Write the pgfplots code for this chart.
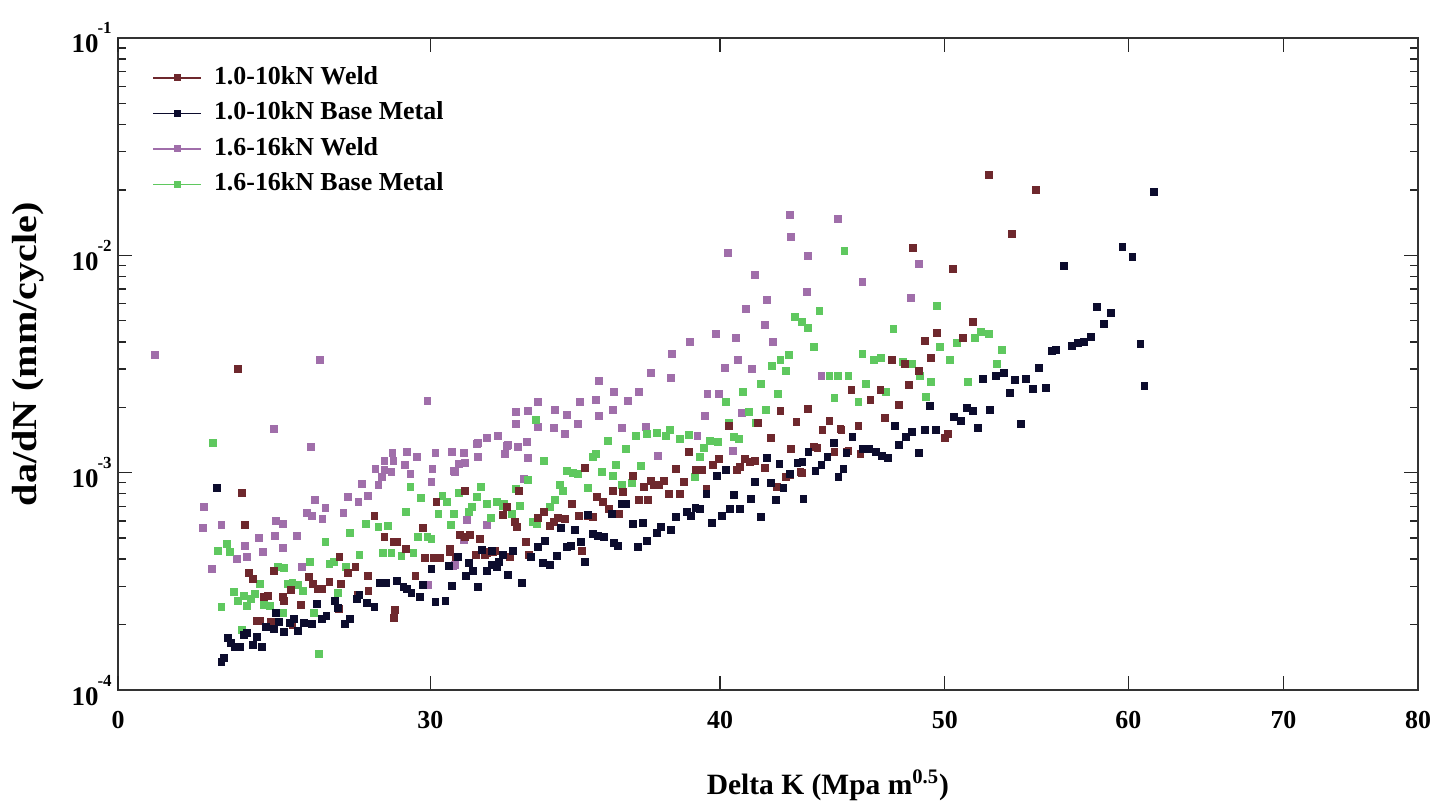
\documentclass[border=0pt]{standalone}
\usepackage{fontspec}
\setmainfont{Liberation Serif}
\usepackage{graphicx}
\usepackage{pgfplots}
\pgfplotsset{compat=1.18}
\definecolor{weldA}{RGB}{110,40,45}
\definecolor{baseA}{RGB}{12,12,45}
\definecolor{weldB}{RGB}{160,110,170}
\definecolor{baseB}{RGB}{95,200,95}
\newcommand{\ex}[1]{\kern-0.5bp\raisebox{9.5bp}{\fontsize{8.5}{9}\selectfont #1}}
\begin{document}
\begin{tikzpicture}
\begin{axis}[
    scale only axis,
    width=650bp, height=326bp,
    xmode=log, ymode=log,
    xmin=22, xmax=80, ymin=1e-4, ymax=1e-1,
    xtick={30,40,50,60,70,80},
    xticklabels={30,40,50,60,70,80},
    extra x ticks={22}, extra x tick labels={0},
    xminorticks=false,
    ytick={1e-4,1e-3,1e-2,1e-1},
    yticklabels={10\ex{-4},10\ex{-3},10\ex{-2},10\ex{-1}},
    minor ytick={2e-4,3e-4,4e-4,5e-4,6e-4,7e-4,8e-4,9e-4,2e-3,3e-3,4e-3,5e-3,6e-3,7e-3,8e-3,9e-3,2e-2,3e-2,4e-2,5e-2,6e-2,7e-2,8e-2,9e-2},
    tick align=inside,
    major tick length=7bp, minor tick length=4bp,
    every tick/.style={black!85, line width=0.7bp},
    axis line style={black!80, line width=1bp},
    xticklabel style={font=\bfseries\fontsize{13}{15}\selectfont, yshift=-7bp},
    yticklabel style={font=\bfseries\fontsize{13.5}{15}\selectfont, anchor=base east, yshift=-7.5bp, inner sep=0pt, xshift=-3bp},
    xlabel={Delta K (Mpa m\textsuperscript{0.5})},
    ylabel={\scalebox{1.15}[1]{da/dN (mm/cycle)}},
    xlabel style={font=\bfseries\fontsize{14.8}{17}\selectfont, at={(axis description cs:0.546,-0.146)}, anchor=center},
    ylabel style={font=\bfseries\fontsize{17.5}{20}\selectfont, at={(axis description cs:-0.069,0.515)}, anchor=center},
    legend image code/.code={\draw[mark repeat=2,mark phase=2,#1] plot coordinates {(0bp,0bp) (12bp,0bp) (24bp,0bp)};},
    legend cell align=left,
    legend style={at={(axis description cs:0.026,0.957)}, anchor=north west, draw=none, fill=none,
        font=\bfseries\fontsize{13}{15}\selectfont, inner sep=0pt, row sep=6.25bp, column sep=6bp,
        nodes={inner sep=0pt, text height=9bp, text depth=2.5bp}},
]
\addlegendimage{weldA, mark=square*, mark size=1.3bp, line width=0.9bp}
\addlegendentry{1.0-10kN Weld}
\addlegendimage{baseA, mark=square*, mark size=1.3bp, line width=0.9bp}
\addlegendentry{1.0-10kN Base Metal}
\addlegendimage{weldB, mark=square*, mark size=1.3bp, line width=0.9bp}
\addlegendentry{1.6-16kN Weld}
\addlegendimage{baseB, mark=square*, mark size=1.3bp, line width=0.9bp}
\addlegendentry{1.6-16kN Base Metal}

% 1.6-16kN Weld
\addplot[only marks, mark=square*, mark size=1.7bp, color=weldB, forget plot] coordinates {
(22.82,3.48e-3) (26.88,3.30e-3) (29.91,2.14e-3) (25.68,1.589e-3) (26.64,1.313e-3) (23.96,6.95e-4) (23.94,5.56e-4) (24.38,5.74e-4) (24.14,3.60e-4) (24.95,4.60e-4) (24.76,4.01e-4) (25.00,4.09e-4) (25.30,5.00e-4) (25.40,4.32e-4) (25.70,5.11e-4) (25.73,5.99e-4) (25.91,5.81e-4) (25.91,4.50e-4) (26.27,5.11e-4) (26.41,3.68e-4) (26.54,6.52e-4) (26.67,6.32e-4) (26.75,7.49e-4) (27.03,6.88e-4) (26.95,6.12e-4) (27.52,6.52e-4) (27.63,7.73e-4) (27.93,7.33e-4) (28.02,8.87e-4) (28.19,7.81e-4) (28.41,1.040e-3) (28.49,8.78e-4) (28.66,1.029e-3) (28.58,9.55e-4) (28.86,1.007e-3) (28.66,1.132e-3) (28.92,1.132e-3) (28.89,1.232e-3) (29.24,1.085e-3) (29.30,1.245e-3) (29.41,9.86e-4) (29.59,1.181e-3) (30.03,9.06e-4) (30.06,1.040e-3) (30.15,1.232e-3) (30.66,1.245e-3) (30.75,1.007e-3) (30.87,1.096e-3) (31.02,1.232e-3) (31.11,6.06e-4) (31.43,1.355e-3) (31.46,1.181e-3) (31.74,1.444e-3) (32.08,1.475e-3) (32.38,1.327e-3) (31.74,5.74e-4) (30.69,3.72e-4) (29.94,3.04e-4)
(40.31,1.026e-2) (43.63,9.94e-3) (41.40,8.13e-3) (43.59,6.79e-3) (41.89,6.24e-3) (41.03,5.67e-3) (41.81,4.78e-3) (40.62,4.17e-3) (39.83,4.35e-3) (42.15,4.00e-3) (38.82,4.00e-3) (38.13,3.52e-3) (40.70,3.30e-3) (41.27,3.00e-3) (40.19,3.03e-3) (37.35,2.88e-3) (38.09,2.73e-3) (35.47,2.64e-3) (36.00,2.35e-3) (36.90,2.35e-3) (36.50,2.14e-3) (35.36,2.16e-3) (34.81,2.12e-3) (35.97,1.944e-3) (35.47,1.824e-3) (34.36,1.843e-3) (33.96,1.944e-3) (33.38,2.12e-3) (33.05,1.923e-3) (32.66,1.90e-3) (32.66,1.675e-3) (33.38,1.623e-3) (33.93,1.605e-3) (34.29,1.507e-3) (34.74,1.675e-3) (36.28,1.605e-3) (37.16,1.623e-3) (39.51,2.30e-3) (39.95,2.30e-3) (39.40,1.824e-3) (40.87,1.883e-3) (40.50,1.259e-3) (39.12,1.475e-3) (37.61,1.193e-3) (31.46,1.370e-3) (32.41,1.341e-3) (32.73,1.313e-3) (33.02,1.384e-3) (32.31,1.219e-3) (33.05,1.168e-3) (30.72,1.018e-3) (31.05,1.108e-3) (32.92,9.35e-4) (31.02,4.90e-4) (30.75,3.76e-4)
(44.24,2.79e-3) (44.95,1.470e-2) (42.86,1.534e-2) (42.90,1.215e-2) (46.07,7.55e-3) (48.74,9.13e-3) (48.36,6.37e-3)
};

% 1.6-16kN Base Metal
\addplot[only marks, mark=square*, mark size=1.7bp, color=baseB, forget plot] coordinates {
(24.17,1.370e-3) (24.51,4.70e-4) (24.29,4.36e-4) (24.58,4.32e-4) (24.68,2.82e-4) (24.78,2.57e-4) (24.92,2.71e-4) (25.10,2.62e-4) (25.20,2.77e-4) (25.33,3.07e-4) (24.38,2.41e-4) (25.00,2.43e-4) (25.43,2.46e-4) (25.58,2.43e-4) (25.78,3.68e-4) (25.94,3.64e-4) (26.04,3.07e-4) (26.16,3.11e-4) (26.30,3.04e-4) (26.43,2.85e-4) (26.62,3.88e-4) (27.03,4.80e-4) (27.14,3.80e-4) (27.25,3.88e-4) (27.36,2.79e-4) (27.58,3.68e-4) (27.69,5.28e-4) (27.96,4.18e-4) (28.13,5.81e-4) (28.49,5.62e-4) (28.77,5.68e-4) (28.61,4.27e-4) (28.86,4.27e-4) (29.15,4.14e-4) (29.27,6.59e-4) (29.41,8.59e-4) (29.50,4.27e-4) (29.64,5.06e-4) (29.73,7.65e-4) (29.91,5.06e-4) (30.03,4.95e-4) (30.24,6.45e-4) (30.36,7.81e-4) (30.51,7.33e-4) (30.63,5.74e-4) (30.72,6.45e-4) (30.87,8.06e-4) (31.18,6.59e-4) (31.27,6.95e-4) (31.43,7.73e-4) (31.55,8.59e-4) (31.74,7.18e-4) (31.86,6.19e-4) (32.05,7.33e-4) (32.28,7.18e-4) (24.88,1.889e-4) (26.72,2.26e-4) (26.85,1.464e-4) (25.91,2.26e-4)
(44.15,5.55e-3) (43.07,5.21e-3) (43.37,4.94e-3) (43.63,4.63e-3) (43.89,3.79e-3) (42.82,3.48e-3) (42.47,3.30e-3) (42.10,3.10e-3) (42.69,2.94e-3) (41.64,2.56e-3) (42.35,2.30e-3) (40.91,2.35e-3) (40.22,2.12e-3) (41.15,1.90e-3) (41.85,1.944e-3) (44.59,2.79e-3) (44.95,2.79e-3) (45.44,2.79e-3) (44.81,2.21e-3) (41.44,1.693e-3) (40.34,1.693e-3) (40.54,1.459e-3) (40.75,1.429e-3) (39.59,1.399e-3) (39.91,1.384e-3) (39.36,1.299e-3) (39.20,1.181e-3) (38.78,1.491e-3) (38.43,1.429e-3) (38.05,1.572e-3) (37.91,1.475e-3) (37.57,1.523e-3) (37.20,1.507e-3) (36.79,1.475e-3) (36.43,1.285e-3) (35.79,1.399e-3) (36.07,1.085e-3) (35.97,9.65e-4) (35.57,1.007e-3) (35.36,1.219e-3) (35.26,1.181e-3) (35.08,8.50e-4) (34.36,1.018e-3) (34.56,9.97e-4) (34.74,9.86e-4) (34.12,8.78e-4) (34.22,8.24e-4) (33.96,7.49e-4) (33.79,6.95e-4) (33.59,1.132e-3) (33.32,1.748e-3) (33.05,9.26e-4) (32.79,7.03e-4) (32.66,8.41e-4) (32.54,6.45e-4) (32.25,7.03e-4) (33.22,5.93e-4) (33.35,5.81e-4) (36.64,8.97e-4) (36.28,8.78e-4) (36.97,1.073e-3) (39.00,9.55e-4)
(45.26,1.048e-2) (49.62,5.85e-3) (47.51,4.58e-3) (46.07,3.52e-3) (46.62,3.30e-3) (46.94,3.37e-3) (48.41,3.16e-3) (49.77,3.79e-3) (50.61,3.95e-3) (51.51,4.17e-3) (51.82,4.44e-3) (52.23,4.35e-3) (52.92,3.67e-3) (50.26,3.30e-3) (52.65,3.16e-3) (48.79,2.79e-3) (49.33,2.61e-3) (51.16,2.61e-3) (46.25,2.56e-3) (47.18,2.35e-3) (45.89,2.12e-3) (49.08,2.23e-3) (47.98,3.23e-3)
};

% 1.0-10kN Weld
\addplot[only marks, mark=square*, mark size=1.7bp, color=weldA, forget plot] coordinates {
(24.78,3.00e-3) (24.88,8.07e-4) (24.95,5.74e-4) (25.05,3.45e-4) (25.15,3.24e-4) (25.43,2.68e-4) (25.53,2.71e-4) (25.25,2.08e-4) (25.33,2.08e-4) (25.68,3.53e-4) (25.91,2.68e-4) (25.94,2.57e-4) (26.11,2.885e-4) (26.38,2.46e-4) (26.59,3.31e-4) (26.69,3.07e-4) (26.82,2.92e-4) (26.93,2.92e-4) (27.14,3.14e-4) (27.41,4.09e-4) (27.44,3.07e-4) (27.63,3.45e-4) (27.85,3.68e-4) (28.19,3.35e-4) (28.21,2.85e-4) (28.38,6.32e-4) (28.66,5.06e-4) (28.92,4.80e-4) (29.03,4.80e-4) (29.27,4.45e-4) (29.56,3.35e-4) (29.79,5.56e-4) (29.85,4.05e-4) (30.09,4.05e-4) (30.30,4.05e-4) (30.18,7.33e-4) (30.60,4.45e-4) (30.90,5.17e-4) (31.21,5.17e-4) (31.05,8.24e-4) (31.52,4.95e-4) (31.74,4.27e-4) (31.92,4.32e-4) (32.25,6.39e-4) (32.38,6.95e-4) (28.97,2.33e-4) (28.94,2.14e-4) (26.16,1.99e-4) (25.60,2.06e-4) (27.91,2.74e-4) (27.39,2.36e-4)
(32.76,8.24e-4) (32.63,5.93e-4) (32.69,5.62e-4) (33.38,6.19e-4) (33.59,6.59e-4) (33.79,5.68e-4) (33.93,5.93e-4) (34.06,6.19e-4) (34.29,6.12e-4) (34.53,7.18e-4) (34.77,6.32e-4) (34.98,1.051e-3) (35.08,6.32e-4) (35.26,6.26e-4) (35.40,7.73e-4) (35.61,7.33e-4) (35.82,6.81e-4) (35.97,8.24e-4) (36.18,6.45e-4) (36.32,8.15e-4) (36.68,9.65e-4) (36.90,7.49e-4) (37.09,8.59e-4) (37.23,7.49e-4) (37.35,9.16e-4) (37.46,8.78e-4) (37.64,8.78e-4) (37.83,9.16e-4) (38.02,7.98e-4) (38.43,7.98e-4) (38.59,9.06e-4) (38.28,1.040e-3) (38.78,1.245e-3) (39.04,1.029e-3) (39.28,1.029e-3) (39.47,8.41e-4) (39.71,1.085e-3) (39.95,1.156e-3) (40.22,1.029e-3) (40.34,1.640e-3) (40.66,1.029e-3) (40.79,1.062e-3) (40.99,1.156e-3) (41.19,1.120e-3) (41.40,1.132e-3) (41.52,1.693e-3) (42.06,1.444e-3) (41.81,1.051e-3) (42.47,1.923e-3) (43.15,1.711e-3) (43.63,1.965e-3) (42.90,1.285e-3) (43.89,1.313e-3) (44.06,1.299e-3) (44.28,1.572e-3) (44.59,1.730e-3) (44.81,1.245e-3) (45.12,1.572e-3) (45.35,1.245e-3) (42.31,8.59e-4) (42.69,9.55e-4) (42.86,9.76e-4) (43.32,1.007e-3) (31.05,5.06e-4) (30.60,4.32e-4) (30.78,4.09e-4) (31.39,4.18e-4) (31.68,4.18e-4) (31.83,4.32e-4) (31.99,4.36e-4) (32.47,4.09e-4) (33.08,4.18e-4) (32.98,4.80e-4) (34.88,4.36e-4)
(52.23,2.34e-2) (53.44,1.255e-2) (54.73,2.00e-2) (48.46,1.081e-2) (50.41,8.66e-3) (51.41,4.94e-3) (49.62,4.40e-3) (49.03,4.04e-3) (50.91,4.17e-3) (47.46,3.30e-3) (48.07,3.16e-3) (48.74,2.94e-3) (49.33,3.37e-3) (48.26,2.53e-3) (46.90,2.40e-3) (45.57,2.40e-3) (46.44,2.16e-3) (47.79,2.05e-3) (47.13,1.786e-3) (45.89,1.640e-3) (45.08,1.588e-3) (45.44,1.259e-3) (45.98,1.219e-3) (43.37,9.97e-4) (50.00,1.444e-3) (50.16,1.507e-3)
};

% 1.0-10kN Base Metal
\addplot[only marks, mark=square*, mark size=1.7bp, color=baseA, forget plot] coordinates {
(24.26,8.50e-4) (24.38,1.345e-4) (24.43,1.41e-4) (24.53,1.735e-4) (24.61,1.646e-4) (24.71,1.578e-4) (24.83,1.578e-4) (24.93,1.791e-4) (25.00,1.830e-4) (25.15,1.611e-4) (25.25,1.754e-4) (25.38,1.578e-4) (25.48,1.950e-4) (25.68,1.910e-4) (25.73,2.26e-4) (25.81,2.06e-4) (25.94,1.849e-4) (26.09,2.03e-4) (26.19,2.13e-4) (26.30,1.869e-4) (26.46,2.03e-4) (26.67,2.01e-4) (26.80,2.49e-4) (26.93,2.13e-4) (27.06,2.20e-4) (27.28,2.57e-4) (27.36,2.38e-4) (27.55,2.01e-4) (27.69,2.13e-4) (27.88,2.62e-4) (27.96,2.74e-4) (28.16,2.51e-4) (28.38,2.41e-4) (28.52,3.11e-4) (28.72,3.11e-4) (29.03,3.17e-4) (29.21,2.98e-4) (29.32,2.92e-4) (29.44,2.79e-4) (29.70,2.68e-4) (29.79,3.04e-4) (30.03,3.60e-4) (30.15,2.54e-4) (30.45,2.57e-4) (30.57,3.72e-4) (30.84,4.09e-4) (31.08,3.35e-4) (31.18,3.84e-4) (30.66,3.01e-4) (31.46,2.98e-4) (31.58,4.41e-4) (31.74,3.53e-4) (31.89,4.36e-4) (32.05,3.68e-4) (32.12,3.88e-4) (32.25,4.18e-4) (32.41,3.38e-4)
(32.86,3.11e-4) (31.30,3.53e-4) (31.89,3.76e-4) (32.57,4.36e-4) (33.15,4.09e-4) (33.55,3.84e-4) (33.79,3.76e-4) (34.02,4.14e-4) (33.38,4.55e-4) (33.62,4.85e-4) (34.16,5.56e-4) (34.36,4.55e-4) (34.50,4.60e-4) (34.63,5.45e-4) (34.84,4.80e-4) (34.98,3.88e-4) (35.08,6.39e-4) (35.26,5.22e-4) (35.43,5.11e-4) (35.64,5.06e-4) (36.00,4.75e-4) (36.14,4.60e-4) (35.93,6.45e-4) (36.28,7.18e-4) (36.43,7.18e-4) (36.68,5.81e-4) (36.87,4.55e-4) (37.05,5.87e-4) (37.20,4.85e-4) (37.57,5.28e-4) (37.72,5.62e-4) (38.09,5.45e-4) (38.28,6.26e-4) (38.70,6.59e-4) (38.86,6.32e-4) (39.04,6.88e-4) (39.20,6.81e-4) (39.47,7.98e-4) (39.67,5.87e-4) (39.87,9.65e-4) (40.06,6.32e-4) (40.22,1.029e-3) (40.38,6.81e-4) (40.54,7.89e-4) (40.79,6.81e-4) (41.23,7.57e-4) (41.40,9.06e-4) (41.64,6.26e-4) (41.89,1.168e-3) (42.06,8.97e-4) (42.27,7.49e-4) (42.43,1.096e-3) (42.60,8.50e-4) (42.86,9.86e-4) (43.19,1.108e-3) (43.45,7.57e-4) (43.67,1.245e-3) (43.97,1.018e-3) (44.24,1.085e-3) (44.50,1.181e-3) (44.77,1.370e-3) (44.99,9.55e-4) (45.21,1.040e-3)
(61.53,1.958e-2) (59.65,1.093e-2) (60.24,9.83e-3) (56.27,8.94e-3) (58.14,5.79e-3) (58.95,5.43e-3) (58.54,4.84e-3) (57.79,4.21e-3) (57.40,4.00e-3) (57.05,3.95e-3) (56.72,3.83e-3) (55.83,3.67e-3) (55.61,3.63e-3) (54.89,3.03e-3) (60.72,3.91e-3) (60.97,2.51e-3) (53.02,2.88e-3) (52.60,2.79e-3) (51.93,2.70e-3) (53.60,2.67e-3) (54.18,2.70e-3) (53.33,2.33e-3) (54.56,2.43e-3) (55.28,2.45e-3) (53.92,1.675e-3) (52.28,1.944e-3) (51.11,1.985e-3) (51.41,1.923e-3) (50.46,1.805e-3) (50.81,1.729e-3) (51.67,1.605e-3) (49.28,2.03e-3) (47.60,1.640e-3) (49.03,1.572e-3) (49.57,1.572e-3) (48.41,1.539e-3) (48.12,1.459e-3) (47.79,1.341e-3) (48.74,1.232e-3) (45.62,1.459e-3) (46.11,1.286e-3) (46.39,1.286e-3) (46.71,1.245e-3) (46.99,1.193e-3) (47.27,1.168e-3) (45.35,1.232e-3) (43.41,1.120e-3)
};
\end{axis}
\pgfresetboundingbox
\path (-59bp,-56.5bp) rectangle (665bp,345bp);
\end{tikzpicture}
\end{document}
